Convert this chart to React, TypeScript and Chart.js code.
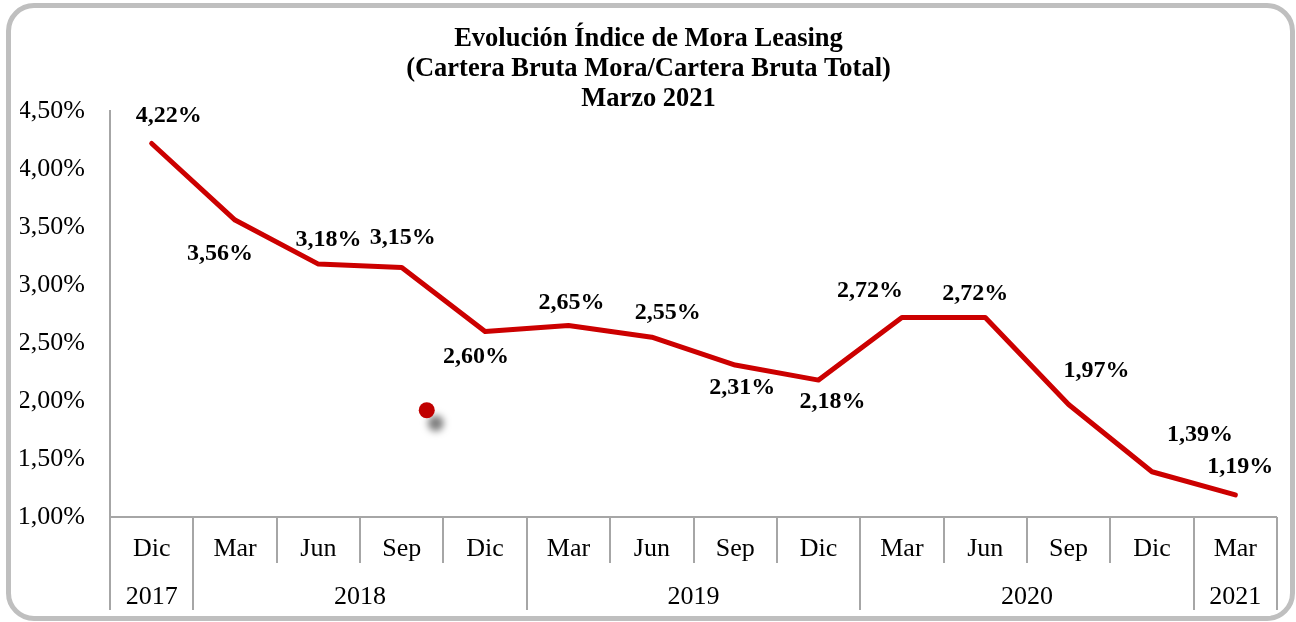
import React, { useEffect, useRef } from 'react';
import { Chart, registerables } from 'chart.js';

Chart.register(...registerables);

// ---- Data ----
const months = ['Dic', 'Mar', 'Jun', 'Sep', 'Dic', 'Mar', 'Jun', 'Sep', 'Dic', 'Mar', 'Jun', 'Sep', 'Dic', 'Mar'];
const yearLabels = ['2017', '2018', '2019', '2020', '2021'];
const yearSpans = [1, 4, 4, 4, 1];
const moraValues = [4.22, 3.56, 3.18, 3.15, 2.6, 2.65, 2.55, 2.31, 2.18, 2.72, 2.72, 1.97, 1.39, 1.19];
const titleLines = ['Evolución Índice de Mora Leasing', '(Cartera Bruta Mora/Cartera Bruta Total)', 'Marzo 2021'];
const yMin = 1;
const yMax = 4.5;
const yStep = 0.5;
// stray marker in the picture (category position, value)
const strayDotPosition = 3.3;
const strayDotValue = 1.92;

// label placement relative to each point (styling)
const labelDx = [17, -15, 10, 1, -9, 3, 16, 7, 14, -32, -10, 28, 48, 5];
const labelDy = [-28, 34, -24, -30, 25, -23, -24, 23, 22, -27, -24, -34, -37, -28];

const FONT = "'Liberation Serif', 'Times New Roman', Times, serif";
const AXIS_COLOR = '#a6a6a6';
const LINE_COLOR = '#cc0000';

const fmtPct = (v: number) => v.toFixed(2).replace('.', ',') + '%';

const twoLevelAxis = {
  id: 'twoLevelAxis',
  afterDraw(chart: any) {
    const { ctx, chartArea, scales } = chart;
    const x = scales.x;
    const b = chartArea.bottom;
    const rowH = 46;
    const totalH = 93;
    const yearBoundaries = new Set<number>();
    let acc = 0;
    yearBoundaries.add(0);
    yearSpans.forEach((s) => {
      acc += s;
      yearBoundaries.add(acc);
    });
    ctx.save();
    ctx.strokeStyle = AXIS_COLOR;
    ctx.lineWidth = 2;
    ctx.beginPath();
    ctx.moveTo(chartArea.left, b);
    ctx.lineTo(chartArea.right, b);
    for (let i = 0; i <= months.length; i++) {
      const px = Math.round(x.getPixelForValue(i - 0.5));
      ctx.moveTo(px, b);
      ctx.lineTo(px, yearBoundaries.has(i) ? b + totalH : b + rowH);
    }
    ctx.stroke();

    ctx.fillStyle = '#000';
    ctx.font = `26px ${FONT}`;
    ctx.textAlign = 'center';
    ctx.textBaseline = 'middle';
    months.forEach((m, i) => {
      ctx.fillText(m, x.getPixelForValue(i), b + 32);
    });
    let start = 0;
    yearLabels.forEach((yl, k) => {
      const end = start + yearSpans[k] - 1;
      const cx = (x.getPixelForValue(start - 0.5) + x.getPixelForValue(end + 0.5)) / 2;
      ctx.fillText(yl, cx, b + 80);
      start = end + 1;
    });
    ctx.restore();
  },
};

const pointLabels = {
  id: 'pointLabels',
  afterDatasetsDraw(chart: any) {
    const { ctx, scales } = chart;
    const meta = chart.getDatasetMeta(0);
    ctx.save();
    ctx.fillStyle = '#000';
    ctx.font = `bold 24px ${FONT}`;
    ctx.textAlign = 'center';
    ctx.textBaseline = 'middle';
    meta.data.forEach((pt: any, i: number) => {
      ctx.fillText(fmtPct(moraValues[i]), pt.x + labelDx[i], pt.y + labelDy[i]);
    });
    // stray dot
    const dx = scales.x.getPixelForValue(strayDotPosition);
    const dy = scales.y.getPixelForValue(strayDotValue);
    ctx.shadowColor = 'rgba(0,0,0,0.5)';
    ctx.shadowBlur = 7;
    ctx.shadowOffsetX = 9;
    ctx.shadowOffsetY = 13;
    ctx.fillStyle = '#c00000';
    ctx.beginPath();
    ctx.arc(dx, dy, 8, 0, Math.PI * 2);
    ctx.fill();
    ctx.restore();
  },
};

export default function App() {
  const canvasRef = useRef<HTMLCanvasElement | null>(null);

  useEffect(() => {
    if (!canvasRef.current) return;
    Chart.defaults.font.family = FONT;
    Chart.defaults.color = '#000';
    const chart = new Chart(canvasRef.current, {
      type: 'line',
      data: {
        labels: months,
        datasets: [
          {
            data: moraValues,
            borderColor: LINE_COLOR,
            backgroundColor: LINE_COLOR,
            borderWidth: 5,
            pointRadius: 0,
            tension: 0,
            borderJoinStyle: 'round',
            borderCapStyle: 'round',
          },
        ],
      },
      options: {
        animation: false,
        responsive: false,
        maintainAspectRatio: false,
        layout: { padding: { left: 20, right: 19, top: 0, bottom: 105 } },
        plugins: {
          legend: { display: false },
          tooltip: { enabled: false },
          title: {
            display: true,
            text: titleLines,
            color: '#000',
            font: { family: FONT, size: 26.5, weight: 'bold', lineHeight: 1.132 },
            padding: { top: 24, bottom: -3 },
          },
        },
        scales: {
          x: {
            type: 'category',
            offset: true,
            grid: { display: false, drawTicks: false },
            border: { display: false },
            ticks: { display: false },
          },
          y: {
            min: yMin,
            max: yMax,
            grid: { display: false, drawTicks: false },
            border: { display: true, color: AXIS_COLOR, width: 2 },
            afterFit: (scale: any) => {
              scale.width = 90;
            },
            ticks: {
              stepSize: yStep,
              padding: 25,
              color: '#000',
              font: { family: FONT, size: 26 },
              callback: (v: any) => fmtPct(Number(v)),
            },
          },
        },
      },
      plugins: [twoLevelAxis, pointLabels],
    });
    return () => chart.destroy();
  }, []);

  return (
    <div style={{ position: 'fixed', left: 0, top: 0, width: 1296, height: 622, background: '#fff' }}>
      <div
        style={{
          position: 'absolute',
          left: 6,
          top: 3,
          width: 1289,
          height: 618,
          boxSizing: 'border-box',
          border: '5px solid #bfbfbf',
          borderRadius: 28,
        }}
      />
      <canvas ref={canvasRef} width={1296} height={622} style={{ position: 'absolute', left: 0, top: 0 }} />
    </div>
  );
}
